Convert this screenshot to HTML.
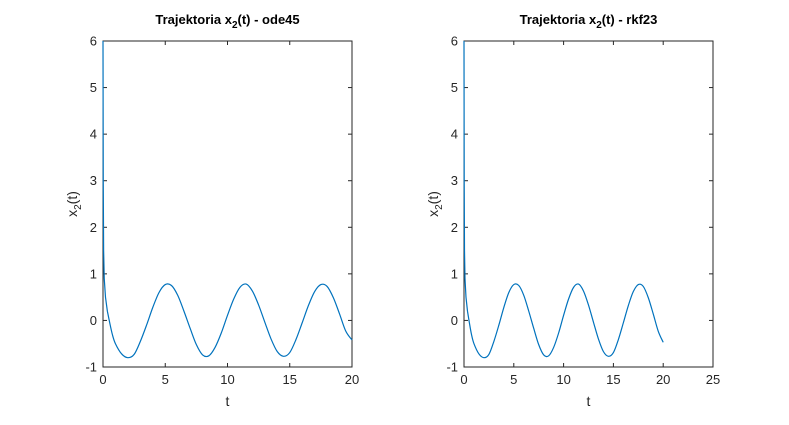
<!DOCTYPE html>
<html><head><meta charset="utf-8"><style>
body{margin:0;background:#fff;width:789px;height:420px;overflow:hidden}
svg{font-family:"Liberation Sans",sans-serif}
</style></head><body>
<svg id="chart" width="789" height="420"></svg>
<script>
const tVals=[0,0.02,0.05,0.1,0.2,0.35,0.5,0.75,1,1.5,2,2.5,3,3.5,4,4.5,5,5.5,6,6.5,7,7.5,8,8.5,9,9.5,10,10.5,11,11.5,12,12.5,13,13.5,14,14.5,15,15.5,16,16.5,17,17.5,18,18.5,19,19.5,20];
const x2Ode45=[6,3.0,1.5,0.9,0.5,0.2,0.0,-0.3,-0.5,-0.72,-0.8,-0.73,-0.45,-0.1,0.28,0.6,0.77,0.75,0.54,0.2,-0.17,-0.52,-0.74,-0.76,-0.58,-0.27,0.11,0.46,0.71,0.78,0.63,0.33,-0.04,-0.4,-0.67,-0.77,-0.69,-0.41,-0.05,0.32,0.62,0.77,0.73,0.49,0.14,-0.23,-0.42];
const x2Rkf23=[6,3.0,1.5,0.9,0.5,0.2,0.0,-0.3,-0.5,-0.72,-0.8,-0.73,-0.45,-0.1,0.28,0.6,0.77,0.75,0.54,0.2,-0.17,-0.52,-0.74,-0.76,-0.58,-0.27,0.11,0.46,0.71,0.78,0.63,0.33,-0.04,-0.4,-0.67,-0.77,-0.69,-0.41,-0.05,0.32,0.62,0.77,0.73,0.49,0.14,-0.23,-0.47];
const yTicks=[-1,0,1,2,3,4,5,6];
const xTicksLeft=[0,5,10,15,20];
const xTicksRight=[0,5,10,15,20,25];
const NS="http://www.w3.org/2000/svg";
const svg=document.getElementById('chart');
function mk(tag,attrs,parent){const e=document.createElementNS(NS,tag);for(const k in attrs)e.setAttribute(k,attrs[k]);(parent||svg).appendChild(e);return e;}
function panel(x0,x1,xmax,xt,data,title,id){
  const y0=41,y1=367;
  const g=mk('g',{});
  
  
  const sx=v=>x0+(x1-x0)*v/xmax, sy=v=>y1-(y1-y0)*(v+1)/7;
  const box=mk('rect',{x:x0,y:y0,width:x1-x0,height:y1-y0,fill:'none',stroke:'#262626','stroke-width':1},g);
  
  
  yTicks.forEach(v=>{const y=sy(v);
    mk('line',{x1:x0,y1:y,x2:x0+4,y2:y,stroke:'#262626'},g);
    mk('line',{x1:x1,y1:y,x2:x1-4,y2:y,stroke:'#262626'},g);
    const t=mk('text',{x:x0-6,y:y+4.5,'text-anchor':'end','font-size':13,fill:'#262626'},g);t.textContent=v;
    
    });
  xt.forEach(v=>{const x=sx(v);
    mk('line',{x1:x,y1:y1,x2:x,y2:y1-4,stroke:'#262626'},g);
    mk('line',{x1:x,y1:y0,x2:x,y2:y0+4,stroke:'#262626'},g);
    const t=mk('text',{x:x,y:y1+17,'text-anchor':'middle','font-size':13,fill:'#262626'},g);t.textContent=v;
    
    });
  const pts=tVals.map((t,i)=>[sx(t),sy(data[i])]);
  let d='M'+pts[0][0]+','+pts[0][1];
  for(let i=0;i<pts.length-1;i++){
    const p0=pts[Math.max(0,i-1)],p1=pts[i],p2=pts[i+1],p3=pts[Math.min(pts.length-1,i+2)];
    const k=(i<6)?0:1/6;
    d+=' C'+(p1[0]+(p2[0]-p0[0])*k)+','+(p1[1]+(p2[1]-p0[1])*k)+' '+(p2[0]-(p3[0]-p1[0])*k)+','+(p2[1]-(p3[1]-p1[1])*k)+' '+p2[0]+','+p2[1];
  }
  const line=mk('path',{d:d,fill:'none',stroke:'#0072bd','stroke-width':1.2},g);
  
  
  const cx=(x0+x1)/2;
  const tt=mk('text',{x:cx,y:24,'text-anchor':'middle','font-size':13,'font-weight':'bold',fill:'#000'},g);
  tt.innerHTML='Trajektoria x<tspan font-size="10" dy="4">2</tspan><tspan dy="-4">(t) - '+title+'</tspan>';
  
  
  const xl=mk('text',{x:cx,y:406,'text-anchor':'middle','font-size':14,fill:'#262626'},g);xl.textContent='t';
  
  
  const yl=mk('text',{x:0,y:0,'text-anchor':'middle','font-size':14,fill:'#262626',transform:'translate('+(x0-26)+',204) rotate(-90)'},g);
  yl.innerHTML='x<tspan font-size="10" dy="4">2</tspan><tspan dy="-4">(t)</tspan>';
  
  
}
panel(103,352,20,xTicksLeft,x2Ode45,'ode45','ode45');
panel(464,713,25,xTicksRight,x2Rkf23,'rkf23','rkf23');
</script>
</body></html>
